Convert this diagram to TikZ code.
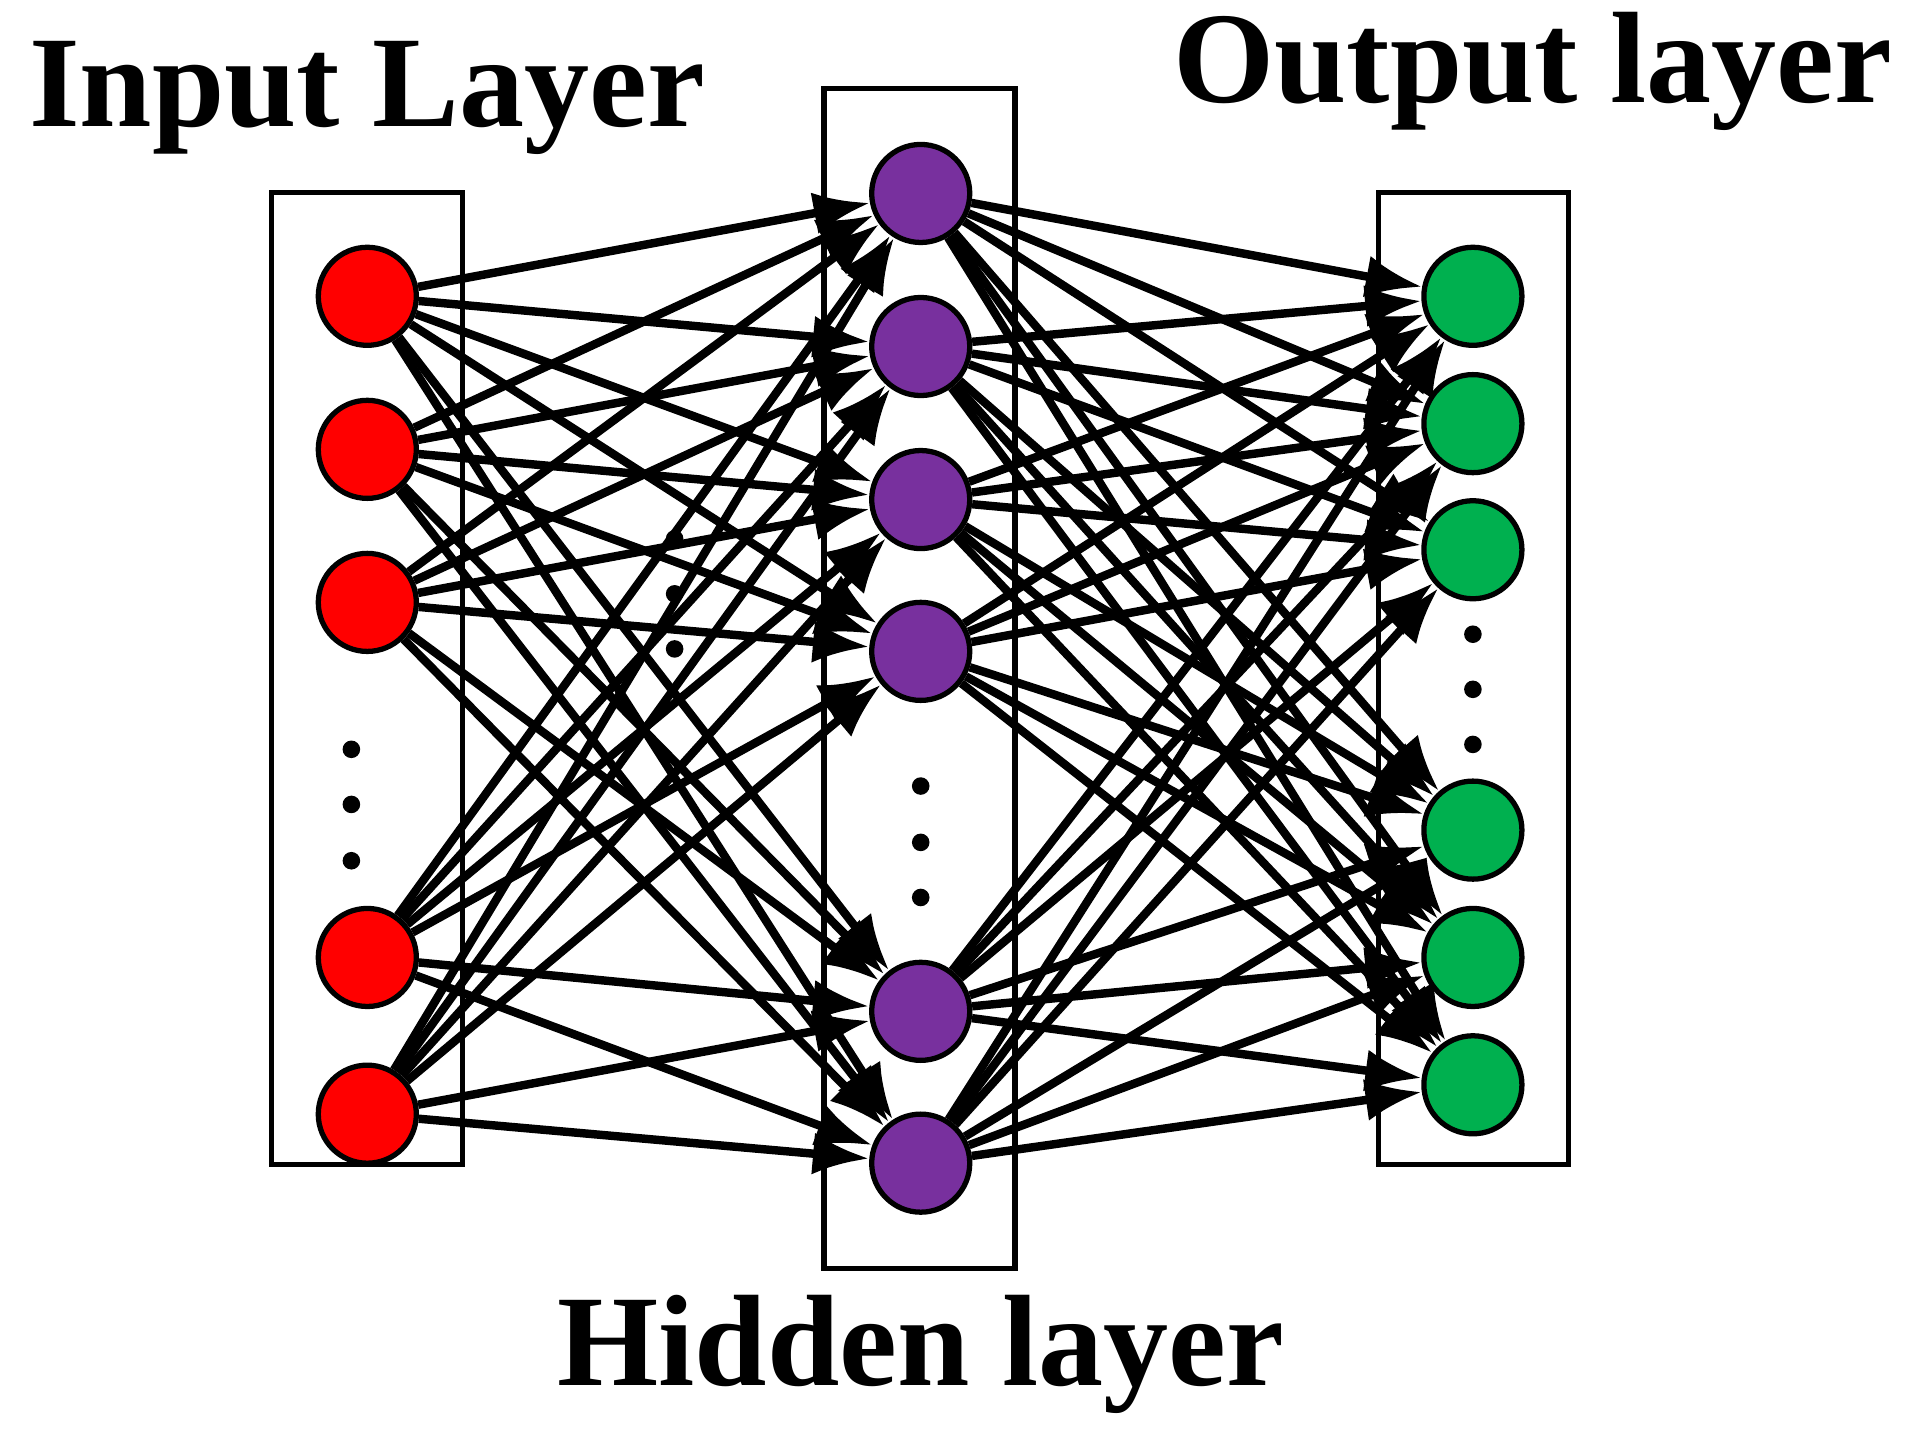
\documentclass[tikz,border=0pt]{standalone}
\usepackage{fontspec}
\setmainfont{Liberation Serif}
\usetikzlibrary{arrows.meta}

\tikzset{
  neuron/.style={circle, draw, line width=1.5pt, minimum size=0.98cm, inner sep=0pt},
  layerbox/.style={draw, line width=1.5pt},
  link/.style={line width=2.4pt, -{Latex[length=16pt,width=12pt]}},
  dotmark/.style={circle, fill, inner sep=0pt, minimum size=5pt},
  title/.style={font=\bfseries\fontsize{37}{40}\selectfont}
}
\definecolor{inred}{rgb}{1,0,0}
\definecolor{hidpurple}{rgb}{0.47,0.19,0.62}
\definecolor{outgreen}{rgb}{0,0.69,0.31}

\begin{document}
\begin{tikzpicture}[x=0.01224cm, y=-0.01224cm]
\useasboundingbox (0,0) rectangle (1560,1171);
% layer boxes
\draw[layerbox] (222,157) rectangle (378,951);
\draw[layerbox] (673,72) rectangle (829,1036);
\draw[layerbox] (1126,157) rectangle (1281,951);
% neurons
\foreach \y [count=\i] in {242,367,492,782,910}
  \node[neuron, fill=inred] (in\i) at (300,\y) {};
\foreach \y [count=\i] in {158,283,408,532,826,950}
  \node[neuron, fill=hidpurple] (hid\i) at (752,\y) {};
\foreach \y [count=\i] in {242,346,449,678,782,886}
  \node[neuron, fill=outgreen] (out\i) at (1203,\y) {};
% connections
\foreach \i in {1,...,5}
  \foreach \j in {1,...,6}
    \draw[link] (in\i) -- (hid\j);
\foreach \i in {1,...,6}
  \foreach \j in {1,...,6}
    \draw[link] (hid\i) -- (out\j);
% dots
\foreach \y [count=\k] in {612,657,703}
  \node[dotmark] (din\k) at (287,\y) {};
\foreach \y [count=\k] in {642,688,733}
  \node[dotmark] (dhid\k) at (752,\y) {};
\foreach \y [count=\k] in {518,563,608}
  \node[dotmark] (dout\k) at (1203,\y) {};
\foreach \y [count=\k] in {440,485,530}
  \node[dotmark] (dmid\k) at (551,\y) {};
% titles
\node[title] (tin) at (300,80) {Input Layer};
\node[title] (tout) at (1252,58) {Output layer};
\node[title] (thid) at (752,1106) {Hidden layer};
\end{tikzpicture}
\end{document}
